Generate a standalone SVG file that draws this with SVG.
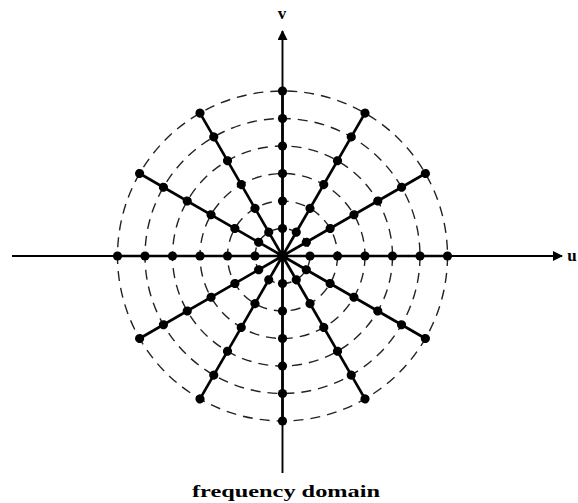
<svg xmlns="http://www.w3.org/2000/svg" xmlns:xlink="http://www.w3.org/1999/xlink" width="578" height="503" viewBox="0 0 578 503">
<style>
.ring{fill:none;stroke:#222;stroke-width:1.4;stroke-dasharray:10 7}
.spoke{stroke:#000;stroke-width:2.7}
.dot{fill:#000}
.axis{stroke:#000;stroke-width:1.9;fill:none}
.lbl{font-family:"Liberation Serif","DejaVu Serif",serif;font-weight:bold;fill:#000}
</style>
<defs>
<marker id="arr" viewBox="0 0 10 10" refX="9" refY="5" markerWidth="10" markerHeight="10" markerUnits="userSpaceOnUse" orient="auto">
<path d="M0,0 L10,5 L0,10 Z" fill="#000"/>
</marker>
<g id="spokeShape">
<line class="spoke" x1="0" y1="0" x2="165" y2="0"/>
<circle class="dot" cx="27.5" cy="0" r="4.6"/>
<circle class="dot" cx="55" cy="0" r="4.6"/>
<circle class="dot" cx="82.5" cy="0" r="4.6"/>
<circle class="dot" cx="110" cy="0" r="4.6"/>
<circle class="dot" cx="137.5" cy="0" r="4.6"/>
<circle class="dot" cx="165" cy="0" r="4.6"/>
</g>
</defs>
<g id="rings">
<circle class="ring" cx="282.5" cy="256" r="27.5"/>
<circle class="ring" cx="282.5" cy="256" r="55"/>
<circle class="ring" cx="282.5" cy="256" r="82.5"/>
<circle class="ring" cx="282.5" cy="256" r="110"/>
<circle class="ring" cx="282.5" cy="256" r="137.5"/>
<circle class="ring" cx="282.5" cy="256" r="165"/>
</g>
<g id="connectors">
<line class="axis" x1="12" y1="256" x2="562" y2="256" marker-end="url(#arr)"/>
<line class="axis" x1="282.5" y1="473" x2="282.5" y2="31" marker-end="url(#arr)"/>
</g>
<g id="spokes">
<g id="spoke0"><use xlink:href="#spokeShape" href="#spokeShape" transform="translate(282.5,256) rotate(0)"/></g>
<g id="spoke30"><use xlink:href="#spokeShape" href="#spokeShape" transform="translate(282.5,256) rotate(-30)"/></g>
<g id="spoke60"><use xlink:href="#spokeShape" href="#spokeShape" transform="translate(282.5,256) rotate(-60)"/></g>
<g id="spoke90"><use xlink:href="#spokeShape" href="#spokeShape" transform="translate(282.5,256) rotate(-90)"/></g>
<g id="spoke120"><use xlink:href="#spokeShape" href="#spokeShape" transform="translate(282.5,256) rotate(-120)"/></g>
<g id="spoke150"><use xlink:href="#spokeShape" href="#spokeShape" transform="translate(282.5,256) rotate(-150)"/></g>
<g id="spoke180"><use xlink:href="#spokeShape" href="#spokeShape" transform="translate(282.5,256) rotate(-180)"/></g>
<g id="spoke210"><use xlink:href="#spokeShape" href="#spokeShape" transform="translate(282.5,256) rotate(-210)"/></g>
<g id="spoke240"><use xlink:href="#spokeShape" href="#spokeShape" transform="translate(282.5,256) rotate(-240)"/></g>
<g id="spoke270"><use xlink:href="#spokeShape" href="#spokeShape" transform="translate(282.5,256) rotate(-270)"/></g>
<g id="spoke300"><use xlink:href="#spokeShape" href="#spokeShape" transform="translate(282.5,256) rotate(-300)"/></g>
<g id="spoke330"><use xlink:href="#spokeShape" href="#spokeShape" transform="translate(282.5,256) rotate(-330)"/></g>
<circle class="dot" cx="282.5" cy="256" r="5.5"/>
</g>
<g id="labels">
<text class="lbl" x="282" y="19" font-size="17" text-anchor="middle">v</text>
<text class="lbl" x="572" y="261" font-size="17" text-anchor="middle">u</text>
<text class="lbl" x="286" y="497" font-size="17" text-anchor="middle" textLength="188" lengthAdjust="spacingAndGlyphs">frequency domain</text>
</g>
</svg>
